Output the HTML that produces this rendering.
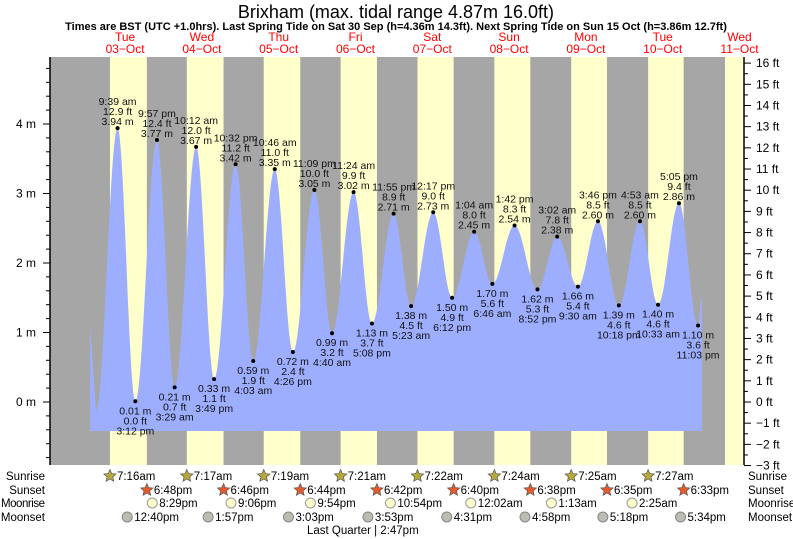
<!DOCTYPE html>
<html><head><meta charset="utf-8"><style>
html,body{margin:0;padding:0;background:#fff;}
svg{display:block;font-family:"Liberation Sans",sans-serif;}
</style></head><body>
<svg id="s" width="793" height="539" xmlns="http://www.w3.org/2000/svg"></svg>
<script>
const S=document.getElementById('s');
const NS='http://www.w3.org/2000/svg';
function el(t,a,txt){const e=document.createElementNS(NS,t);for(const k in a)e.setAttribute(k,a[k]);if(txt!==undefined)e.textContent=txt;S.appendChild(e);return e;}
const X0=86.7,DW=76.8,L=50,R=744,T=57,B=465;
const X=d=>X0+DW*d, Y=m=>402-69.5*m;
function tm(day,h,mi,pm){let hh=h%12+(pm?12:0);return day+(hh+mi/60)/24;}
el('rect',{x:L,y:T,width:R-L,height:B-T,fill:'#a6a6a6'});
const sr=[[7,16],[7,17],[7,19],[7,21],[7,22],[7,24],[7,25],[7,27],[7,28]];
const ss=[[6,48],[6,46],[6,44],[6,42],[6,40],[6,38],[6,35],[6,33]];
for(let i=0;i<9;i++){const a=X(tm(i,sr[i][0],sr[i][1],0));const b=i<8?X(tm(i,ss[i][0],ss[i][1],1)):R;el('rect',{x:a,y:T,width:Math.min(b,R)-a,height:B-T,fill:'#ffffcc'});}
const P=[[0.043,1.1,0],[0.121,-0.12,0],
[tm(0,9,39,0),3.94,'9:39 am'],[tm(0,3,12,1),0.01,'3:12 pm'],[tm(0,9,57,1),3.77,'9:57 pm'],
[tm(1,3,29,0),0.21,'3:29 am'],[tm(1,10,12,0),3.67,'10:12 am'],[tm(1,3,49,1),0.33,'3:49 pm'],[tm(1,10,32,1),3.42,'10:32 pm'],
[tm(2,4,3,0),0.59,'4:03 am'],[tm(2,10,46,0),3.35,'10:46 am'],[tm(2,4,26,1),0.72,'4:26 pm'],[tm(2,11,9,1),3.05,'11:09 pm'],
[tm(3,4,40,0),0.99,'4:40 am'],[tm(3,11,24,0),3.02,'11:24 am'],[tm(3,5,8,1),1.13,'5:08 pm'],[tm(3,11,55,1),2.71,'11:55 pm'],
[tm(4,5,23,0),1.38,'5:23 am'],[tm(4,12,17,1),2.73,'12:17 pm'],[tm(4,6,12,1),1.50,'6:12 pm'],
[tm(5,1,4,0),2.45,'1:04 am'],[tm(5,6,46,0),1.70,'6:46 am'],[tm(5,1,42,1),2.54,'1:42 pm'],[tm(5,8,52,1),1.62,'8:52 pm'],
[tm(6,3,2,0),2.38,'3:02 am'],[tm(6,9,30,0),1.66,'9:30 am'],[tm(6,3,46,1),2.60,'3:46 pm'],[tm(6,10,18,1),1.39,'10:18 pm'],
[tm(7,4,53,0),2.60,'4:53 am'],[tm(7,10,33,0),1.40,'10:33 am'],[tm(7,5,5,1),2.86,'5:05 pm'],[tm(7,11,3,1),1.10,'11:03 pm'],
[8.01,1.51,0]];
let d='M90,431 L90,'+Y(1.1)+' L'+X(P[1][0])+','+Y(P[1][1]);
for(let i=1;i<P.length-1;i++){const a=P[i],b=P[i+1];for(let k=1;k<=24;k++){const f=k/24;const t=a[0]+(b[0]-a[0])*f;const h=a[1]+(b[1]-a[1])*(1-Math.cos(Math.PI*f))/2;d+=' L'+X(t).toFixed(1)+','+Y(h).toFixed(1);}}
d+=' L702,431 Z';
el('path',{d:d,fill:'#9daeff'});
for(let i=2;i<P.length-1;i++){const p=P[i],x=X(p[0]),y=Y(p[1]);el('circle',{cx:x,cy:y,r:2,fill:'#000'});
const ft=(p[1]*3.28084).toFixed(1)+' ft',m=p[1].toFixed(2)+' m';const hi=i%2==0;
const lines=hi?[p[2],ft,m]:[m,ft,p[2]];const ys=hi?[y-23,y-13,y-3]:[y+13,y+23,y+33];
for(let j=0;j<3;j++)el('text',{x:x,y:ys[j],'font-size':'10.5','text-anchor':'middle',fill:'#111'},lines[j]);}
el('line',{x1:L,y1:T,x2:L,y2:B,stroke:'#000','stroke-width':1.5});
el('line',{x1:R,y1:T,x2:R,y2:B,stroke:'#000','stroke-width':1.5});
for(let m=-0.8;m<=4.9;m+=0.2){const y=Y(m);if(y<T||y>B)continue;const maj=Math.abs(m-Math.round(m))<0.01;el('line',{x1:maj?43:46,y1:y,x2:L,y2:y,stroke:'#000'});if(maj)el('text',{x:36,y:y+4,'font-size':'12','text-anchor':'end'},Math.round(m)+' m');}
for(let f=-3;f<=16;f+=0.5){const y=402-f*21.18;const maj=f%1==0;el('line',{x1:R,y1:y,x2:maj?751:748,y2:y,stroke:'#000'});if(maj)el('text',{x:756,y:y+4,'font-size':'12'},(f<0?'\u2212'+(-f):f)+' ft');}
el('text',{x:396,y:18,'font-size':'18','text-anchor':'middle'},'Brixham (max. tidal range 4.87m 16.0ft)');
el('text',{x:396,y:30,'font-size':'11','font-weight':'bold','text-anchor':'middle'},'Times are BST (UTC +1.0hrs). Last Spring Tide on Sat 30 Sep (h=4.36m 14.3ft). Next Spring Tide on Sun 15 Oct (h=3.86m 12.7ft)');
const dn=['Tue','Wed','Thu','Fri','Sat','Sun','Mon','Tue','Wed'];
for(let i=0;i<9;i++){const x=X(i+0.5);el('text',{x:x,y:41,'font-size':'12','text-anchor':'middle',fill:'#f00'},dn[i]);el('text',{x:x,y:53,'font-size':'12','text-anchor':'middle',fill:'#f00'},String(3+i).padStart(2,'0')+'\u2212Oct');}
const rows=[['Sunrise',476],['Sunset',490],['Moonrise',503],['Moonset',517]];
for(const r of rows){el('text',{x:45,y:r[1]+4,'font-size':'11.5','text-anchor':'end',textLength:r[0]=='Moonrise'?44:null},r[0]);el('text',{x:748,y:r[1]+4,'font-size':'11.5'},r[0]);}
function star(cx,cy,fill){let p='';for(let k=0;k<10;k++){const a=-Math.PI/2+k*Math.PI/5;const rr=k%2?3:6.5;p+=(cx+rr*Math.cos(a)).toFixed(1)+','+(cy+rr*Math.sin(a)).toFixed(1)+' ';}el('polygon',{points:p,fill:fill,stroke:'#555','stroke-width':0.7});}
for(let i=0;i<8;i++){let x=X(tm(i,sr[i][0],sr[i][1],0));star(x,476,'#b5a93a');el('text',{x:x+7,y:480,'font-size':'11.5'},sr[i][0]+':'+sr[i][1]+'am');
x=X(tm(i,ss[i][0],ss[i][1],1));star(x,490,'#e35b2c');el('text',{x:x+7,y:494,'font-size':'11.5'},ss[i][0]+':'+ss[i][1]+'pm');}
const mr=[[0,8,29,1,'8:29pm'],[1,9,6,1,'9:06pm'],[2,9,54,1,'9:54pm'],[3,10,54,1,'10:54pm'],[5,0,2,0,'12:02am'],[6,1,13,0,'1:13am'],[7,2,25,0,'2:25am']];
for(const q of mr){const x=X(tm(q[0],q[1],q[2],q[3]));el('circle',{cx:x,cy:503,r:5,fill:'#ffffcc',stroke:'#999'});el('text',{x:x+7,y:507,'font-size':'11.5'},q[4]);}
const ms=[[12,40,'12:40pm'],[1,57,'1:57pm'],[3,3,'3:03pm'],[3,53,'3:53pm'],[4,31,'4:31pm'],[4,58,'4:58pm'],[5,18,'5:18pm'],[5,34,'5:34pm']];
for(let i=0;i<8;i++){const q=ms[i];const x=X(tm(i,q[0],q[1],1));el('circle',{cx:x,cy:517,r:5,fill:'#bcbcb0',stroke:'#888'});el('text',{x:x+7,y:521,'font-size':'11.5'},q[2]);}
el('text',{x:307,y:534,'font-size':'11.5'},'Last Quarter | 2:47pm');
</script>
</body></html>
